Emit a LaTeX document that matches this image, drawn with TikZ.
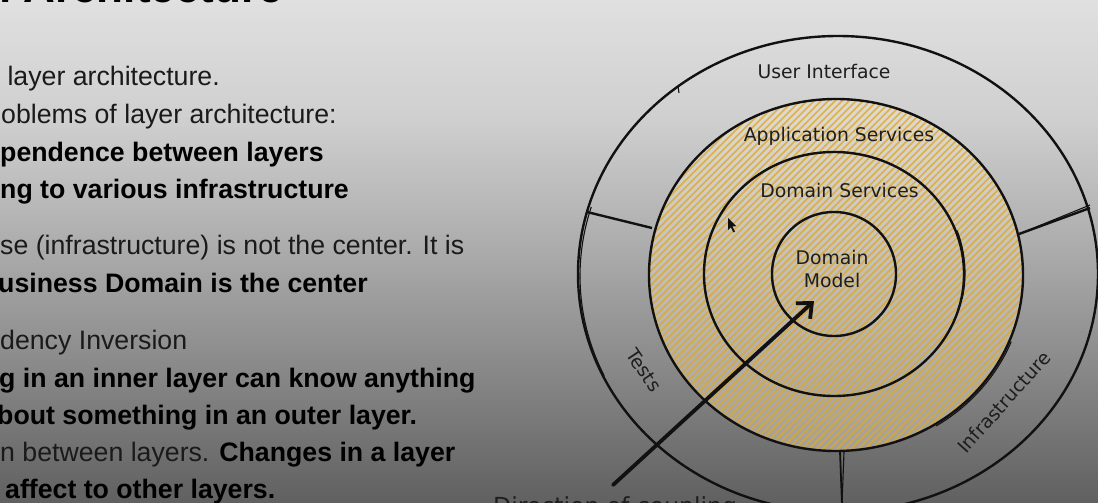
\documentclass[tikz,border=0pt]{standalone}
\usepackage{fontspec}
\setmainfont{Liberation Sans}
\newfontfamily\sketchfont{DejaVu Sans}
\usetikzlibrary{arrows.meta}

\definecolor{bgA}{HTML}{E0E0E0}
\definecolor{bgB}{HTML}{CFCFCF}
\definecolor{bgC}{HTML}{ABABAB}
\definecolor{bgD}{HTML}{858585}
\definecolor{bgE}{HTML}{606060}
\definecolor{ink}{HTML}{111111}
\definecolor{bodytext}{HTML}{1A1A1A}
\definecolor{labtext}{HTML}{1E1E1E}
\definecolor{hatchc}{RGB}{224,166,44}
\definecolor{cream}{RGB}{240,232,206}

\tikzset{
  body/.style={anchor=base west, inner sep=0pt, text=bodytext,
    font=\fontsize{26.7}{32}\selectfont},
  bodyb/.style={body, text=black, font=\fontsize{26.7}{32}\selectfont\bfseries},
  lab/.style={inner sep=0pt, text=labtext, font=\sketchfont\fontsize{18.8}{22}\selectfont},
  ring/.style={draw=ink, line width=2.4pt},
  sketch/.style={draw=ink, line width=1.1pt},
  hatch/.style={draw=hatchc, line width=1.7pt, opacity=0.8},
  coupling/.style={draw=ink, line width=3.8pt, line cap=round,
    -{Straight Barb[length=12pt,width=21pt]}}
}

\begin{document}
\begin{tikzpicture}[x=1pt,y=-1pt]
\useasboundingbox (0,0) rectangle (1098,503);

% slide background, light at the top and darker towards the bottom
\shade[top color=bgA, bottom color=bgB] (0,-0.5) rectangle (1098,120.5);
\shade[top color=bgB, bottom color=bgC] (0,120) rectangle (1098,250.5);
\shade[top color=bgC, bottom color=bgD] (0,250) rectangle (1098,380.5);
\shade[top color=bgD, bottom color=bgE] (0,380) rectangle (1098,503.5);

% slide title (mostly above the visible area)
\node[anchor=base east, inner sep=0pt, text=black,
  font=\fontsize{44}{50}\selectfont\bfseries] (title) at (283,2.5) {Onion Architecture};

% left column text
\node[body]  (l1)  at (-22.3,85)  {of layer architecture.};
\node[body]  (l2)  at (1,123)     {oblems of layer architecture:};
\node[bodyb] (l3)  at (0,161)     {pendence between layers};
\node[bodyb] (l4)  at (0,198)     {ng to various infrastructure};
\node[body]  (l5)  at (0,254)     {se (infrastructure) is not the center. It is};
\node[bodyb] (l6)  at (-2,292)    {usiness Domain is the center};
\node[body]  (l7)  at (0,349)     {dency Inversion};
\node[bodyb] (l8)  at (-1,387)    {g in an inner layer can know anything};
\node[bodyb] (l9)  at (-3,424)    {bout something in an outer layer.};
\node[body]  (l10) at (0,461)     {n between layers. \textbf{\color{black}Changes in a layer}};
\node[bodyb] (l11) at (5,498)     {affect to other layers.};

% hatched application core
\begin{scope}
  \clip (836,275) ellipse [x radius=187pt, y radius=176pt];
  \fill[cream, opacity=0.4] (640,90) rectangle (1030,460);
  \foreach \k in {740,747,...,1480}
    \draw[hatch] (\k-80,80) -- (\k-470,470);
\end{scope}

% rings
\draw[ring] (838,274) ellipse [x radius=260pt, y radius=238pt];
\draw[ring] (836,275) ellipse [x radius=187pt, y radius=176pt];
\draw[ring] (834,274) ellipse [x radius=130pt, y radius=122pt];
\draw[ring] (834,274) ellipse [x radius=62pt, y radius=62pt];

% doubled pencil strokes
\draw[sketch] ([shift={(163:258pt and 236pt)}]838,276) arc[start angle=163, end angle=205, x radius=258pt, y radius=236pt];
\draw[sketch] ([shift={(-58:189pt and 178pt)}]836,275) arc[start angle=-58, end angle=-22, x radius=189pt, y radius=178pt];
\draw[sketch] ([shift={(-12:131pt and 124pt)}]834,273) arc[start angle=-12, end angle=20, x radius=131pt, y radius=124pt];
\draw[sketch] ([shift={(100:186pt and 177pt)}]836,276) arc[start angle=100, end angle=60, x radius=186pt, y radius=177pt];
\draw[sketch] (678,86) -- (679,93);

% ring sector dividers
\coordinate (dlA) at (587,212);
\coordinate (dlB) at (652,228);
\coordinate (drA) at (1019,234);
\coordinate (drB) at (1090,208);
\coordinate (drC) at (1090,205);
\coordinate (dbA) at (840,451);
\coordinate (dbB) at (842,504);
\coordinate (dbC) at (844,452);
\draw[ring] (dlA) -- (dlB);
\draw[ring] (drA) -- (drB);
\draw[sketch] (drA) -- (drC);
\draw[ring, line width=1.8pt] (dbA) -- (dbB);
\draw[sketch] (dbC) -- (dbB);

% layer names
\node[lab, anchor=base] (ui)  at (824,79)    {User Interface};
\node[lab, anchor=base] (as)  at (839,141)   {Application Services};
\node[lab, anchor=base] (ds)  at (839.5,197) {Domain Services};
\node[lab, anchor=base] (dm1) at (832,264)   {Domain};
\node[lab, anchor=base] (dm2) at (832,287)   {Model};
\node[lab, rotate=-56]  (tests) at (644,370) {Tests};
\node[lab, rotate=48]   (infra) at (1004,402) {Infrastructure};
\node[lab, anchor=base west, font=\sketchfont\fontsize{23.5}{28}\selectfont]
  (dir) at (493,514) {Direction of coupling};

% coupling arrow towards the domain model
\coordinate (tail) at (613,485);
\coordinate (head) at (814,301);
\draw[coupling] (tail) -- (head);

% mouse pointer
\fill[ink] (728,218) -- (728,230) -- (730.8,227.2) -- (733.4,232.4) -- (735,231.6) -- (732.4,226.4) -- (736.2,226.2) -- cycle;
\end{tikzpicture}
\end{document}
